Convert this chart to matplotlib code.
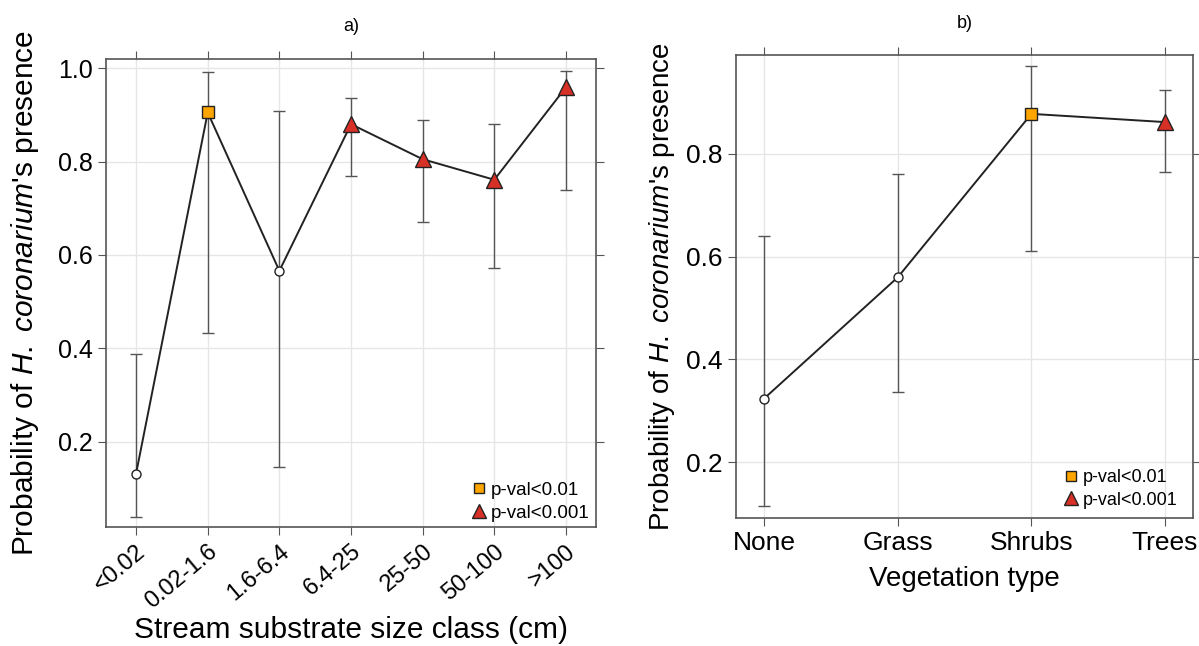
import numpy as np
import matplotlib
matplotlib.use("Agg")
import matplotlib.pyplot as plt
from matplotlib.lines import Line2D

plt.rcParams['font.family'] = ['Liberation Sans', 'DejaVu Sans']
plt.rcParams['mathtext.fontset'] = 'custom'
plt.rcParams['mathtext.rm'] = 'Liberation Sans'
plt.rcParams['mathtext.it'] = 'Liberation Sans:italic'

# Panel a: stream substrate size class
substrate = ['<0.02', '0.02-1.6', '1.6-6.4', '6.4-25', '25-50', '50-100', '>100']
prob_a = [0.132, 0.905, 0.566, 0.880, 0.805, 0.761, 0.959]
low_a = [0.040, 0.432, 0.146, 0.769, 0.670, 0.573, 0.738]
high_a = [0.388, 0.991, 0.909, 0.937, 0.889, 0.881, 0.994]
sig_a = ['ns', 'p01', 'ns', 'p001', 'p001', 'p001', 'p001']

# Panel b: vegetation type
vegetation = ['None', 'Grass', 'Shrubs', 'Trees']
prob_b = [0.324, 0.560, 0.878, 0.862]
low_b = [0.114, 0.337, 0.612, 0.765]
high_b = [0.641, 0.760, 0.971, 0.924]
sig_b = ['ns', 'ns', 'p01', 'p001']

marker_style = {
    'ns': dict(marker='o', markersize=6.5, markerfacecolor='white'),
    'p01': dict(marker='s', markersize=9, markerfacecolor='#FFA500'),
    'p001': dict(marker='^', markersize=11, markerfacecolor='#D73027'),
}
ylab = r"Probability of $\mathit{H.\ coronarium}$'s presence"


def draw_panel(ax, cats, prob, low, high, sig, fs_tick, fs_lab, fs_leg, leg_anchor):
    x = np.arange(len(cats))
    prob = np.array(prob)
    yerr = [prob - np.array(low), np.array(high) - prob]
    ax.errorbar(x, prob, yerr=yerr, fmt='none', ecolor='#555555',
                elinewidth=1, capsize=4.5, capthick=1, zorder=2)
    ax.plot(x, prob, color='#222222', lw=1.4, zorder=3)
    for xi, yi, s in zip(x, prob, sig):
        ax.plot(xi, yi, linestyle='none', markeredgecolor='#222222',
                markeredgewidth=1, zorder=4, **marker_style[s])
    ax.set_xticks(x)
    ax.grid(True, color='#e6e6e6', lw=1)
    ax.set_axisbelow(True)
    for sp in ax.spines.values():
        sp.set_color('#555555')
        sp.set_linewidth(1.2)
    ax.tick_params(top=True, right=True, direction='out', length=6,
                   color='#555555', labelsize=fs_tick)
    ax.set_ylabel(ylab, fontsize=fs_lab)
    handles = [
        Line2D([], [], linestyle='none', marker='s', markersize=7,
               markerfacecolor='#FFA500', markeredgecolor='#222222',
               label='p-val<0.01'),
        Line2D([], [], linestyle='none', marker='^', markersize=10,
               markerfacecolor='#D73027', markeredgecolor='#222222',
               label='p-val<0.001'),
    ]
    ax.legend(handles=handles, loc='lower right', bbox_to_anchor=leg_anchor,
              frameon=False, fontsize=fs_leg, handletextpad=0.05,
              borderaxespad=0.2, labelspacing=0.3, handlelength=1.2)


fig = plt.figure(figsize=(11.99, 6.46), dpi=100)
ax1 = fig.add_axes([0.0884, 0.1838, 0.4087, 0.7245])
ax2 = fig.add_axes([0.6135, 0.1986, 0.3817, 0.7158])

draw_panel(ax1, substrate, prob_a, low_a, high_a, sig_a, 18, 21.5, 13.5,
           (1.01, -0.012))
ax1.set_xlim(-0.42, 6.42)
ax1.set_ylim(0.017, 1.019)
ax1.set_yticks([0.2, 0.4, 0.6, 0.8, 1.0])
ax1.set_xticklabels(substrate, rotation=40, ha='right', rotation_mode='anchor',
                    fontsize=17)
ax1.set_xlabel('Stream substrate size class (cm)', fontsize=21.5)
ax1.xaxis.set_label_coords(0.5, -0.19)
ax1.yaxis.labelpad = 12
ax1.set_title('a)', fontsize=13, pad=20)

draw_panel(ax2, vegetation, prob_b, low_b, high_b, sig_b, 19, 20, 13,
           (0.99, -0.004))
ax2.set_xlim(-0.214, 3.211)
ax2.set_ylim(0.092, 0.992)
ax2.set_yticks([0.2, 0.4, 0.6, 0.8])
ax2.set_xticklabels(vegetation)
ax2.set_xlabel('Vegetation type', fontsize=20, labelpad=8)
ax2.yaxis.labelpad = 6
ax2.set_title('b)', fontsize=13, pad=20)

fig.savefig('out.png', dpi=100)
